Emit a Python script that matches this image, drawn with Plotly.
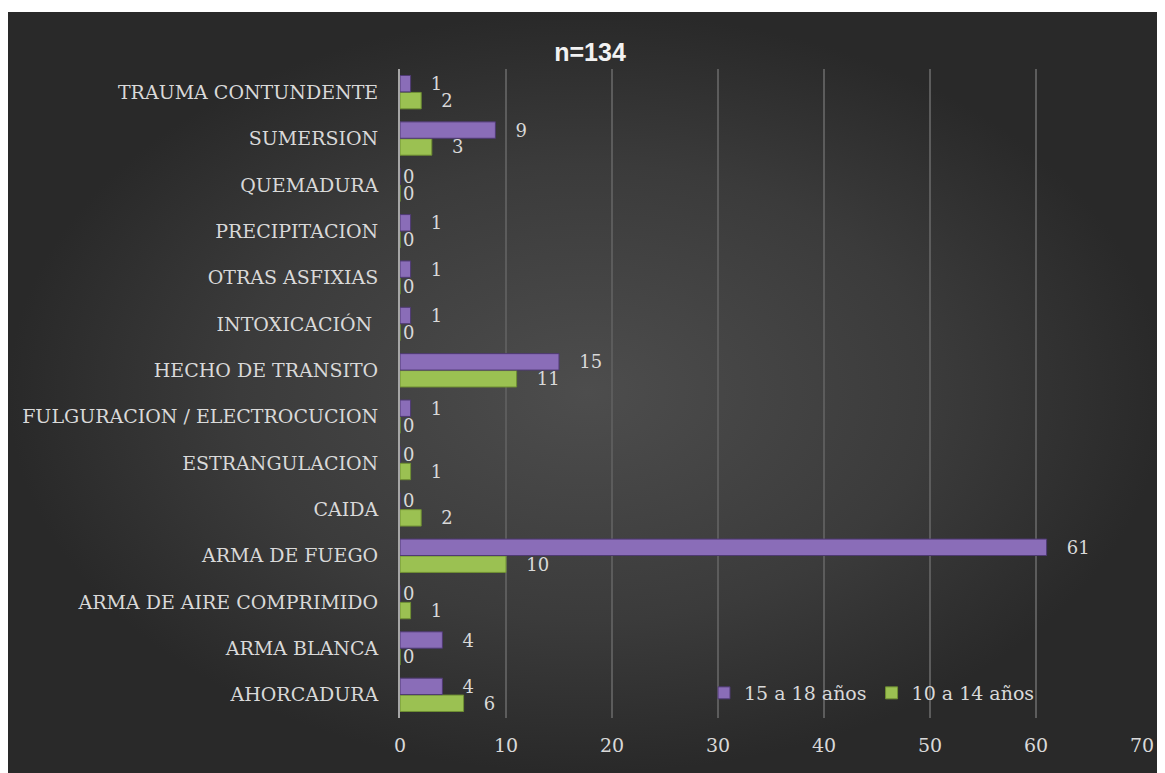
import plotly.graph_objects as go

categories = [
    "AHORCADURA",
    "ARMA BLANCA",
    "ARMA DE AIRE COMPRIMIDO",
    "ARMA DE FUEGO",
    "CAIDA",
    "ESTRANGULACION",
    "FULGURACION / ELECTROCUCION",
    "HECHO DE TRANSITO",
    "INTOXICACIÓN ",
    "OTRAS ASFIXIAS",
    "PRECIPITACION",
    "QUEMADURA",
    "SUMERSION",
    "TRAUMA CONTUNDENTE",
]

edad_15_18 = [4, 4, 0, 61, 0, 0, 1, 15, 1, 1, 1, 0, 9, 1]
edad_10_14 = [6, 0, 1, 10, 2, 1, 0, 11, 0, 0, 0, 0, 3, 2]

x_ticks = [0, 10, 20, 30, 40, 50, 60, 70]

OFF = 8  # page body margin
W, H = 1165 - OFF, 773 - OFF
serif = "DejaVu Serif"
text_col = "#d9d9d9"
fs = 19


def labels(vals):
    # excel-style labels sit a bit away from the bar end
    return [("\u00a0\u00a0\u00a0" + str(v)) if v else str(v) for v in vals]


fig = go.Figure()

# dark radial background behind the chart
fig.add_trace(
    go.Scatter(
        x=[0, 1, 1, 0, 0],
        y=[0, 0, 1, 1, 0],
        mode="lines",
        line=dict(width=0),
        fill="toself",
        fillgradient=dict(
            type="radial",
            colorscale=[[0, "#4d4d4d"], [0.6, "#3b3b3b"], [1, "#292929"]],
        ),
        hoverinfo="skip",
        showlegend=False,
        xaxis="x",
        yaxis="y",
    )
)

fig.add_trace(
    go.Bar(
        y=categories,
        x=edad_10_14,
        name="10 a 14 años",
        orientation="h",
        marker=dict(color="#9bc152", line=dict(color="#6f8f33", width=1)),
        text=labels(edad_10_14),
        textposition="outside",
        constraintext="none",
        textfont=dict(family=serif, size=18, color=text_col),
        cliponaxis=False,
        legendrank=2,
        xaxis="x2",
        yaxis="y2",
    )
)

fig.add_trace(
    go.Bar(
        y=categories,
        x=edad_15_18,
        name="15 a 18 años",
        orientation="h",
        marker=dict(color="#8a6db8", line=dict(color="#4f3a73", width=1)),
        text=labels(edad_15_18),
        textposition="outside",
        constraintext="none",
        textfont=dict(family=serif, size=18, color=text_col),
        cliponaxis=False,
        legendrank=1,
        xaxis="x2",
        yaxis="y2",
    )
)

left, top = 0, 12 - OFF
pw, ph = W - left, H - top


def px_x(page_x):
    return (page_x - OFF - left) / pw


def px_y(page_y):
    return (H - (page_y - OFF)) / ph


fig.update_layout(
    width=W,
    height=H,
    margin=dict(l=left, r=0, t=top, b=0, autoexpand=False),
    paper_bgcolor="white",
    plot_bgcolor="rgba(0,0,0,0)",
    barmode="group",
    bargap=0.27,
    bargroupgap=0.03,
    title=dict(
        text="<b>n=134</b>",
        x=(590 - OFF) / W,
        xref="container",
        xanchor="center",
        y=1 - (52 - OFF) / H,
        yref="container",
        yanchor="middle",
        font=dict(family="Liberation Sans", size=25, color="#f2f2f2"),
    ),
    xaxis=dict(domain=[0, 1], range=[0, 1], visible=False, fixedrange=True),
    yaxis=dict(domain=[0, 1], range=[0, 1], visible=False, fixedrange=True),
    xaxis2=dict(
        domain=[px_x(400), px_x(1142)],
        anchor="y2",
        range=[0, 70],
        tickvals=x_ticks,
        showgrid=True,
        gridcolor="#5c5c5c",
        gridwidth=2,
        zeroline=False,
        showline=False,
        ticks="",
        ticklabelstandoff=14,
        automargin=False,
        tickfont=dict(family=serif, size=fs, color=text_col),
    ),
    yaxis2=dict(
        domain=[px_y(718), px_y(69)],
        anchor="x2",
        categoryorder="array",
        categoryarray=categories,
        showline=True,
        linecolor="#a6a6a6",
        linewidth=2,
        showgrid=False,
        ticks="",
        ticklabelstandoff=16,
        automargin=False,
        tickfont=dict(family=serif, size=fs, color=text_col),
    ),
    legend=dict(
        orientation="h",
        x=px_x(704),
        xanchor="left",
        y=px_y(693),
        yanchor="middle",
        bgcolor="rgba(0,0,0,0)",
        font=dict(family=serif, size=fs, color=text_col),
        itemwidth=30,
    ),
)

fig.write_html("out.html")
